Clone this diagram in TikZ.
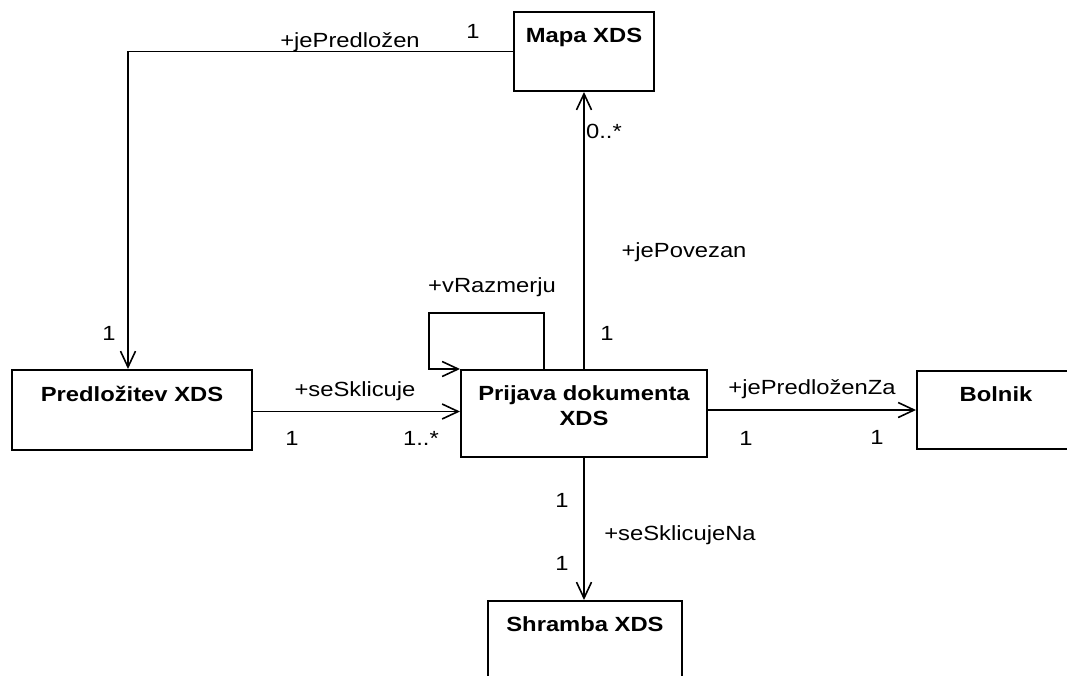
\documentclass[tikz,border=0pt]{standalone}
\usepackage{fontspec}
\setmainfont[FakeStretch=1.16]{Liberation Sans}
\usetikzlibrary{arrows.meta}
\begin{document}
\begin{tikzpicture}[x=1pt,y=-1pt,
  box/.style={draw, line width=2pt, rectangle, inner sep=0pt},
  title/.style={anchor=base, inner sep=0pt, font=\bfseries\fontsize{20.5}{25}\selectfont},
  lbl/.style={anchor=base, inner sep=0pt, font=\fontsize{20.5}{24}\selectfont},
  conn/.style={line width=1.6pt, -{Straight Barb[length=16pt,width=15pt]}}]
\useasboundingbox (0,0) rectangle (1067,675);
\fill[white] (0,0) rectangle (1067,675);
\clip (0,0) rectangle (1067,675);

% boxes
\node[box, minimum width=140pt, minimum height=79pt] (mapa) at (584,51.5) {};
\node[box, minimum width=240pt, minimum height=80pt] (pred) at (132,410) {};
\node[box, minimum width=246pt, minimum height=87pt] (prij) at (584,413.5) {};
\node[box, minimum width=158pt, minimum height=78pt] (bolnik) at (996,410) {};
\node[box, minimum width=194pt, minimum height=90pt] (shramba) at (585,646) {};

% titles
\node[title, yshift=-31pt] (mapaT) at (mapa.north) {Mapa XDS};
\node[title, yshift=-32pt] (predT) at (pred.north) {Predložitev XDS};
\node[title, anchor=north, align=center, yshift=-16.5pt] (prijT) at (prij.north) {Prijava dokumenta\\XDS};
\node[title, yshift=-31pt] (bolnikT) at (bolnik.north) {Bolnik};
\node[title, yshift=-31pt] (shrambaT) at (shramba.north) {Shramba XDS};

% connectors
\draw[conn] (mapa.west) -| ([xshift=-4pt]pred.north);
\draw[conn] (prij.north) -- (mapa.south);
\draw[conn] ([xshift=-40pt]prij.north) |- (429,313) |- (prij.north west);
\draw[conn] ([yshift=-1.5pt]pred.east) -- ([yshift=-1.5pt]prij.west |- pred.east);
\draw[conn] (prij.east |- bolnik.west) -- (bolnik.west);
\draw[conn] (prij.south) -- (prij.south |- shramba.north);

% labels
\node[lbl] (l1) at (350,47) {+jePredložen};
\node[lbl] (l2) at (473,38) {1};
\node[lbl] (l3) at (604,138) {0..*};
\node[lbl] (l4) at (684,257) {+jePovezan};
\node[lbl] (l5) at (492,292) {+vRazmerju};
\node[lbl] (l6) at (607,340) {1};
\node[lbl] (l7) at (109,340) {1};
\node[lbl] (l8) at (355,396) {+seSklicuje};
\node[lbl] (l9) at (292,445) {1};
\node[lbl] (l10) at (421,445) {1..*};
\node[lbl] (l11) at (812,394) {+jePredloženZa};
\node[lbl] (l12) at (746,445) {1};
\node[lbl] (l13) at (877,444) {1};
\node[lbl] (l14) at (562,507) {1};
\node[lbl] (l15) at (680,540) {+seSklicujeNa};
\node[lbl] (l16) at (562,570) {1};
\end{tikzpicture}
\end{document}
